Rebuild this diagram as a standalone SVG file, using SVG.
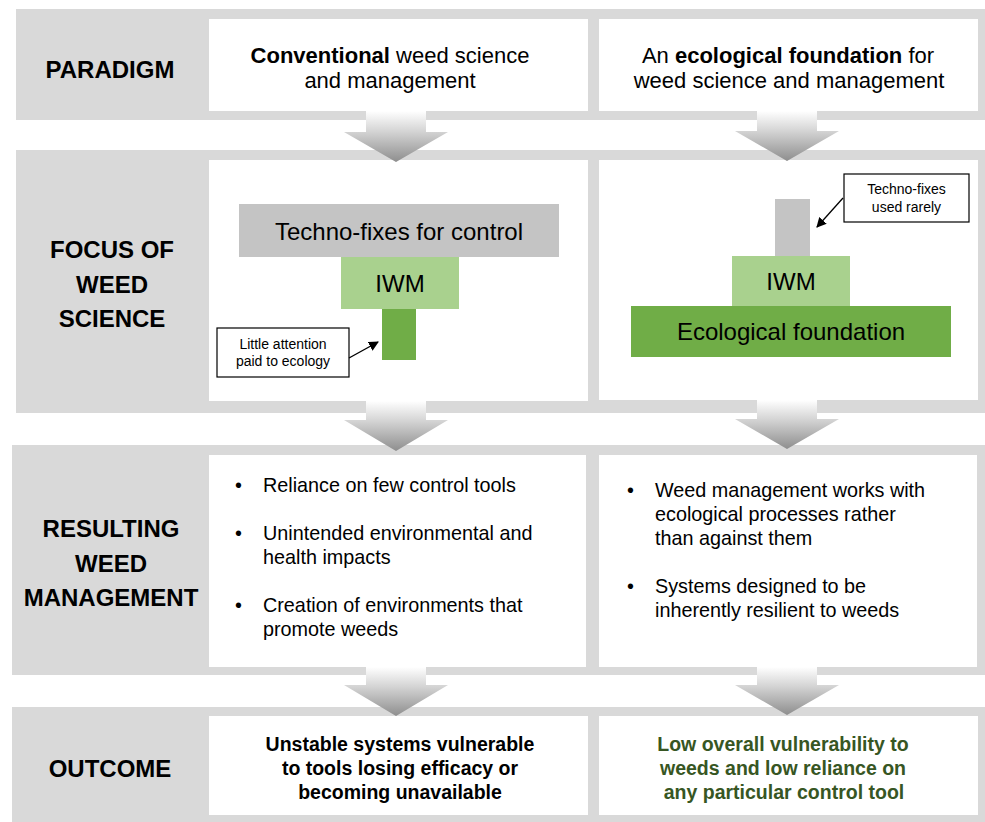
<svg xmlns="http://www.w3.org/2000/svg" width="985" height="822" viewBox="0 0 985 822">
<defs>
<linearGradient id="arrowGrad" x1="0" y1="0" x2="0" y2="1">
<stop offset="0" stop-color="#ffffff"/>
<stop offset="0.4" stop-color="#d4d4d4"/>
<stop offset="1" stop-color="#8e8e8e"/>
</linearGradient>
<marker id="blackHead" markerWidth="10" markerHeight="10" refX="9" refY="5" orient="auto" markerUnits="userSpaceOnUse">
<path d="M0,0 L10,5 L0,10 Z" fill="#000"/>
</marker>
<style>
text{font-family:"Liberation Sans",Arial,Helvetica,sans-serif;fill:#000;}
.band{fill:#d9d9d9;}
.panel{fill:#ffffff;}
.label{font-size:24px;font-weight:bold;text-anchor:middle;}
.head{font-size:22px;text-anchor:middle;}
.b{font-weight:bold;}
.body{font-size:19.8px;}
.bar{font-size:24px;text-anchor:middle;}
.call{font-size:14px;text-anchor:middle;}
.callbox{fill:#fff;stroke:#000;stroke-width:1.2;}
.out{font-size:19.5px;font-weight:bold;text-anchor:middle;}
.green{fill:#375623;}
.conn{fill:url(#arrowGrad);}
.lead{stroke:#000;stroke-width:1.3;fill:none;marker-end:url(#blackHead);}
</style>
</defs>
<rect width="985" height="822" fill="#ffffff"/>

<g id="row-paradigm">
<rect class="band" x="16" y="9" width="969" height="111"/>
<text class="label" x="110" y="78">PARADIGM</text>
</g>
<g id="row-focus">
<rect class="band" x="16" y="150" width="969" height="263"/>
<text class="label" x="112" y="258">FOCUS OF</text>
<text class="label" x="112" y="293">WEED</text>
<text class="label" x="112" y="327">SCIENCE</text>
</g>
<g id="row-management">
<rect class="band" x="12" y="445" width="973" height="230"/>
<text class="label" x="111" y="537">RESULTING</text>
<text class="label" x="111" y="572">WEED</text>
<text class="label" x="111" y="606">MANAGEMENT</text>
</g>
<g id="row-outcome">
<rect class="band" x="12" y="707" width="973" height="115"/>
<text class="label" x="110" y="777">OUTCOME</text>
</g>

<g id="paradigm-conventional">
<rect class="panel" x="209" y="19" width="379" height="92"/>
<text class="head" x="390" y="63"><tspan class="b">Conventional</tspan> weed science</text>
<text class="head" x="390" y="88">and management</text>
</g>
<g id="paradigm-ecological">
<rect class="panel" x="599" y="19" width="379" height="92"/>
<text class="head" x="788" y="63">An <tspan class="b">ecological foundation</tspan> for</text>
<text class="head" x="789" y="88">weed science and management</text>
</g>

<g id="focus-conventional">
<rect class="panel" x="209" y="160" width="379" height="241"/>
<rect x="239" y="204" width="320" height="53" fill="#c4c4c4"/>
<text class="bar" x="399" y="240">Techno-fixes for control</text>
<rect x="341" y="257" width="118" height="52" fill="#a9d18e"/>
<text class="bar" x="400" y="292">IWM</text>
<rect x="382" y="309" width="34" height="51" fill="#70ad47"/>
<rect class="callbox" x="217" y="328" width="132" height="49"/>
<text class="call" x="283" y="348.5">Little attention</text>
<text class="call" x="283" y="366">paid to ecology</text>
<line class="lead" x1="349" y1="358" x2="378" y2="342"/>
</g>

<g id="focus-ecological">
<rect class="panel" x="599" y="160" width="379" height="240"/>
<rect x="775" y="199" width="35" height="57" fill="#c4c4c4"/>
<rect x="732" y="256" width="118" height="50" fill="#a9d18e"/>
<text class="bar" x="791" y="290">IWM</text>
<rect x="631" y="306" width="320" height="51" fill="#70ad47"/>
<text class="bar" x="791" y="340">Ecological foundation</text>
<rect class="callbox" x="844" y="174" width="125" height="48"/>
<text class="call" x="906.5" y="194">Techno-fixes</text>
<text class="call" x="906.5" y="212">used rarely</text>
<line class="lead" x1="843" y1="198" x2="817" y2="227"/>
</g>

<g id="management-conventional">
<rect class="panel" x="209" y="455" width="377" height="212"/>
<text class="body" x="235" y="492">•</text>
<text class="body" x="263" y="492">Reliance on few control tools</text>
<text class="body" x="235" y="540">•</text>
<text class="body" x="263" y="540">Unintended environmental and</text>
<text class="body" x="263" y="564">health impacts</text>
<text class="body" x="235" y="612">•</text>
<text class="body" x="263" y="612">Creation of environments that</text>
<text class="body" x="263" y="636">promote weeds</text>
</g>

<g id="management-ecological">
<rect class="panel" x="599" y="455" width="378" height="212"/>
<text class="body" x="627" y="497">•</text>
<text class="body" x="655" y="497">Weed management works with</text>
<text class="body" x="655" y="521">ecological processes rather</text>
<text class="body" x="655" y="545">than against them</text>
<text class="body" x="627" y="593">•</text>
<text class="body" x="655" y="593">Systems designed to be</text>
<text class="body" x="655" y="617">inherently resilient to weeds</text>
</g>

<g id="outcome-conventional">
<rect class="panel" x="209" y="716" width="379" height="99"/>
<text class="out" x="400" y="751">Unstable systems vulnerable</text>
<text class="out" x="400" y="775">to tools losing efficacy or</text>
<text class="out" x="400" y="799">becoming unavailable</text>
</g>

<g id="outcome-ecological">
<rect class="panel" x="599" y="716" width="379" height="99"/>
<text class="out green" x="783" y="751">Low overall vulnerability to</text>
<text class="out green" x="783" y="775">weeds and low reliance on</text>
<text class="out green" x="784" y="799">any particular control tool</text>
</g>

<g id="connectors">
<path class="conn" d="M366,111 H426 V132 H448 L396,162 L344,132 H366 Z"/>
<path class="conn" d="M757,111 H817 V131 H839 L787,161 L735,131 H757 Z"/>
<path class="conn" d="M366,401 H426 V420 H448 L396,451 L344,420 H366 Z"/>
<path class="conn" d="M757,400 H817 V419 H839 L787,449 L735,419 H757 Z"/>
<path class="conn" d="M366,667 H426 V685 H448 L396,716 L344,685 H366 Z"/>
<path class="conn" d="M757,667 H817 V685 H839 L787,715 L735,685 H757 Z"/>
</g>
</svg>
